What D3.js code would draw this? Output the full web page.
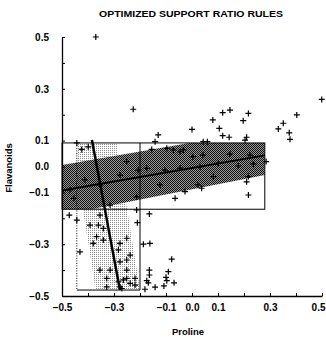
<!DOCTYPE html>
<html>
<head>
<meta charset="utf-8">
<script src="https://cdn.jsdelivr.net/npm/d3@7"></script>
<style>
  body { margin: 0; background: #fff; }
  text { font-family: "Liberation Sans", Arial, sans-serif; font-weight: bold; fill: #000; }
</style>
</head>
<body>
<div id="chart"></div>
<script>
// sample values
const tickValues = [-0.5, -0.4, -0.3, -0.2, -0.1, 0, 0.1, 0.2, 0.3, 0.4, 0.5];
const tickLabels = [-0.5, -0.3, -0.1, 0, 0.1, 0.3, 0.5];

const proline = [-0.37,-0.226,-0.13,-0.142,0.0,0.08,0.118,0.146,0.217,0.197,0.105,0.118,0.143,0.21,0.204,0.043,0.059,0.499,0.403,0.351,0.332,0.374,0.377,
  -0.443,-0.424,-0.399,-0.155,-0.097,-0.072,-0.046,-0.033,
  0.003,0.042,0.146,0.223,0.285,0.031,0.101,0.178,0.236,-0.046,0.082,-0.027,0.023,0.037,0.217,0.21,0.217,-0.251,-0.207,-0.174,-0.104,-0.354,-0.065,-0.213,-0.454,-0.469,-0.412,-0.315,-0.277,-0.123,
  -0.472,-0.443,-0.431,-0.213,-0.164,-0.21,-0.187,-0.162,-0.078,-0.164,-0.164,-0.091,-0.1,-0.097,-0.069,-0.174,-0.168,-0.142,-0.181,-0.108,
  -0.354,-0.36,-0.341,-0.367,-0.341,-0.277,-0.251,-0.283,-0.277,-0.251,-0.238,-0.315,-0.354,-0.328,-0.283,-0.264,-0.251,-0.238,-0.219,-0.219,-0.328,-0.277,-0.27,-0.392,-0.38,-0.251];
const flavanoids = [0.5,0.221,0.122,0.096,0.143,0.18,0.208,0.218,0.205,0.177,0.147,0.119,0.113,0.113,0.102,0.096,0.096,0.259,0.199,0.167,0.145,0.13,0.105,
  0.091,0.066,0.076,0.066,0.07,0.064,0.057,0.064,
  0.038,0.044,0.048,0.044,0.019,-0.001,0.012,0.002,0.01,-0.006,-0.039,-0.097,-0.071,-0.084,-0.039,-0.059,-0.11,0.019,-0.014,-0.007,-0.014,-0.071,-0.123,-0.117,-0.123,-0.09,-0.052,-0.149,-0.033,-0.071,
  -0.188,-0.207,-0.33,-0.168,-0.183,-0.217,-0.3,-0.297,-0.358,-0.4,-0.419,-0.406,-0.428,-0.441,-0.449,-0.441,-0.449,-0.466,-0.474,-0.461,
  -0.188,-0.226,-0.239,-0.271,-0.284,-0.297,-0.277,-0.322,-0.368,-0.361,-0.342,-0.4,-0.4,-0.432,-0.445,-0.438,-0.432,-0.451,-0.432,-0.458,-0.465,-0.465,-0.471,-0.226,-0.297,-0.4];

// rule boxes: [xmin, xmax, ymin, ymax]
const upperRule = [-0.5, 0.28, -0.165, 0.091];
const lowerRule = [-0.443, -0.2, -0.477, 0.091];

// shallow fit and its band
const fitX = [-0.5, 0.28];
const fitY = [-0.093, 0.043];
const bandUpper = [0.006, 0.141];
const bandLower = [-0.187, -0.033];

// steep fit and its band (half width in proline units)
const steepX = [-0.385, -0.277];
const steepY = [0.102, -0.477];
const steepHalfWidth = 0.085;

const width = 326, height = 338;
const margin = { top: 37, right: 4, bottom: 42, left: 62 };

const x = d3.scaleLinear().domain([-0.5, 0.5]).range([margin.left, width - margin.right]);
const y = d3.scaleLinear().domain([-0.5, 0.5]).range([height - margin.bottom, margin.top]);

const svg = d3.select("#chart").append("svg")
    .attr("width", width)
    .attr("height", height);

const defs = svg.append("defs");

// halftone look of the scan
const dark = defs.append("pattern").attr("id", "dark")
    .attr("patternUnits", "userSpaceOnUse").attr("width", 2).attr("height", 2);
dark.append("rect").attr("width", 2).attr("height", 2).attr("fill", "#9a9a9a");
dark.append("rect").attr("width", 1).attr("height", 1).attr("fill", "#111");
dark.append("rect").attr("x", 1).attr("y", 1).attr("width", 1).attr("height", 1).attr("fill", "#111");

const light = defs.append("pattern").attr("id", "light")
    .attr("patternUnits", "userSpaceOnUse").attr("width", 2).attr("height", 2);
light.append("rect").attr("width", 2).attr("height", 2).attr("fill", "#fff");
light.append("rect").attr("width", 1).attr("height", 1).attr("fill", "#8a8a8a");

function ruleRect(r) {
    return { x: x(r[0]), y: y(r[3]), w: x(r[1]) - x(r[0]), h: y(r[2]) - y(r[3]) };
}

const up = ruleRect(upperRule), lo = ruleRect(lowerRule);

defs.append("clipPath").attr("id", "clipUpper").append("rect")
    .attr("x", up.x).attr("y", up.y).attr("width", up.w).attr("height", up.h);
defs.append("clipPath").attr("id", "clipLower").append("rect")
    .attr("x", lo.x).attr("y", lo.y).attr("width", lo.w).attr("height", lo.h);

// light band around the steep line
const steepBand = [
    [steepX[0] - steepHalfWidth, steepY[0] + 0.05],
    [steepX[0] + steepHalfWidth, steepY[0] + 0.05],
    [steepX[1] + steepHalfWidth, steepY[1] - 0.05],
    [steepX[1] - steepHalfWidth, steepY[1] - 0.05]
];
svg.append("path")
    .attr("clip-path", "url(#clipLower)")
    .attr("fill", "url(#light)")
    .attr("d", d3.line().x(d => x(d[0])).y(d => y(d[1]))(steepBand) + "Z");

// dark band around the shallow line
const band = fitX.map((d, i) => ({ x: d, lo: bandLower[i], hi: bandUpper[i] }));
svg.append("path")
    .attr("clip-path", "url(#clipUpper)")
    .attr("fill", "url(#dark)")
    .attr("d", d3.area().x(d => x(d.x)).y0(d => y(d.lo)).y1(d => y(d.hi))(band));

// rule outlines
svg.append("rect")
    .attr("x", up.x).attr("y", up.y).attr("width", up.w).attr("height", up.h)
    .attr("fill", "none").attr("stroke", "#000").attr("stroke-width", 1);

svg.append("path")
    .attr("fill", "none").attr("stroke", "#000").attr("stroke-width", 1)
    .attr("d", `M${lo.x + lo.w},${lo.y}V${lo.y + lo.h}H${lo.x}`);
svg.append("path")
    .attr("fill", "none").attr("stroke", "#000").attr("stroke-width", 1)
    .attr("stroke-dasharray", "1,1.5")
    .attr("d", `M${lo.x},${lo.y}V${lo.y + lo.h}`);

// points
svg.append("g").selectAll("path")
    .data(proline.map((d, i) => [d, flavanoids[i]]))
    .join("path")
    .attr("transform", d => `translate(${x(d[0])},${y(d[1])})`)
    .attr("d", "M-3,0H3M0,-3V3")
    .attr("stroke", "#000")
    .attr("stroke-width", 1.2);

// fitted lines
svg.append("path")
    .attr("fill", "none").attr("stroke", "#000").attr("stroke-width", 2)
    .attr("d", d3.line().x(d => x(d[0])).y(d => y(d[1]))(fitX.map((d, i) => [d, fitY[i]])));
svg.append("path")
    .attr("fill", "none").attr("stroke", "#000").attr("stroke-width", 2.5)
    .attr("d", d3.line().x(d => x(d[0])).y(d => y(d[1]))(steepX.map((d, i) => [d, steepY[i]])));

// axes
const fmt = d => tickLabels.some(t => Math.abs(t - d) < 1e-9)
    ? (d < 0 ? "\u2212" + d3.format(".1f")(-d) : d3.format(".1f")(d)) : "";

const xAxis = svg.append("g")
    .attr("transform", `translate(0,${y(-0.5)})`)
    .call(d3.axisBottom(x).tickValues(tickValues).tickFormat(fmt).tickSizeInner(-3).tickSizeOuter(0).tickPadding(8));
const yAxis = svg.append("g")
    .attr("transform", `translate(${x(-0.5)},0)`)
    .call(d3.axisLeft(y).tickValues(tickValues).tickFormat(fmt).tickSizeInner(-3).tickSizeOuter(0).tickPadding(13));

[xAxis, yAxis].forEach(a => {
    a.select(".domain").attr("stroke", "#000").attr("stroke-width", 1.3);
    a.selectAll(".tick line").attr("stroke", "#000");
    a.selectAll(".tick text").style("font-size", "10px")
        .style("font-family", "'Liberation Sans', Arial, sans-serif").style("font-weight", "bold");
});

// last x label sits against the right edge
xAxis.selectAll(".tick text").filter(d => d === 0.5).attr("text-anchor", "end").attr("dx", "3");

// titles
svg.append("text")
    .attr("x", 191).attr("y", 17)
    .attr("text-anchor", "middle")
    .attr("textLength", 184).attr("lengthAdjust", "spacingAndGlyphs")
    .style("font-size", "8.5px")
    .text("OPTIMIZED SUPPORT RATIO RULES");

svg.append("text")
    .attr("x", 188).attr("y", 335)
    .attr("text-anchor", "middle")
    .style("font-size", "9.5px")
    .text("Proline");

svg.append("text")
    .attr("transform", "translate(12,168) rotate(-90)")
    .attr("text-anchor", "middle")
    .style("font-size", "9.5px")
    .text("Flavanoids");
</script>
</body>
</html>
